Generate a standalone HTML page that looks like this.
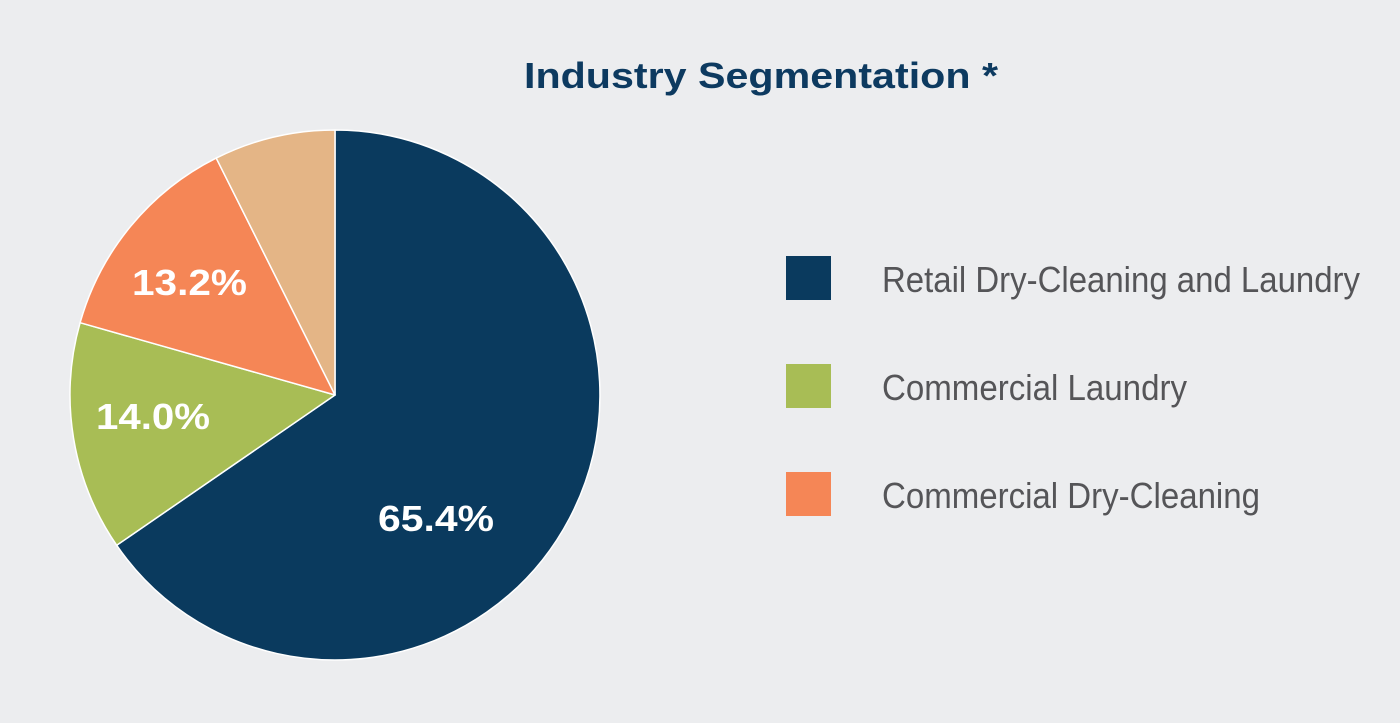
<!DOCTYPE html>
<html><head><meta charset="utf-8"><style>
html,body{margin:0;padding:0;background:#ecedef;}
svg{display:block}
</style></head><body>
<svg width="1400" height="723" viewBox="0 0 1400 723" xmlns="http://www.w3.org/2000/svg">
<rect width="1400" height="723" fill="#ecedef"/>
<text x="524" y="88" textLength="474" lengthAdjust="spacingAndGlyphs" font-family="Liberation Sans, sans-serif" font-weight="bold" font-size="36" fill="#0d3a60">Industry Segmentation *</text>
<g stroke="#ffffff" stroke-width="1.5" stroke-linejoin="round">
<path d="M335,395 L335,130 A265,265 0 1 1 116.7,545.3 Z" fill="#0a3a5e"/>
<path d="M335,395 L116.7,545.3 A265,265 0 0 1 80.1,322.7 Z" fill="#a8bd55"/>
<path d="M335,395 L80.1,322.7 A265,265 0 0 1 216.2,158.1 Z" fill="#f58656"/>
<path d="M335,395 L216.2,158.1 A265,265 0 0 1 335,130 Z" fill="#e4b586"/>
</g>
<g font-family="Liberation Sans, sans-serif" font-weight="bold" font-size="36" fill="#ffffff">
<text x="378" y="531" textLength="116" lengthAdjust="spacingAndGlyphs">65.4%</text>
<text x="96" y="429" textLength="114" lengthAdjust="spacingAndGlyphs">14.0%</text>
<text x="132" y="295" textLength="115" lengthAdjust="spacingAndGlyphs">13.2%</text>
</g>
<rect x="786" y="256" width="45" height="44" fill="#0a3a5e"/>
<rect x="786" y="364" width="45" height="44" fill="#a8bd55"/>
<rect x="786" y="472" width="45" height="44" fill="#f58656"/>
<g font-family="Liberation Sans, sans-serif" font-size="36" fill="#555558">
<text x="882" y="292" textLength="478" lengthAdjust="spacingAndGlyphs">Retail Dry-Cleaning and Laundry</text>
<text x="882" y="400" textLength="305" lengthAdjust="spacingAndGlyphs">Commercial Laundry</text>
<text x="882" y="508" textLength="378" lengthAdjust="spacingAndGlyphs">Commercial Dry-Cleaning</text>
</g>
</svg>
</body></html>
